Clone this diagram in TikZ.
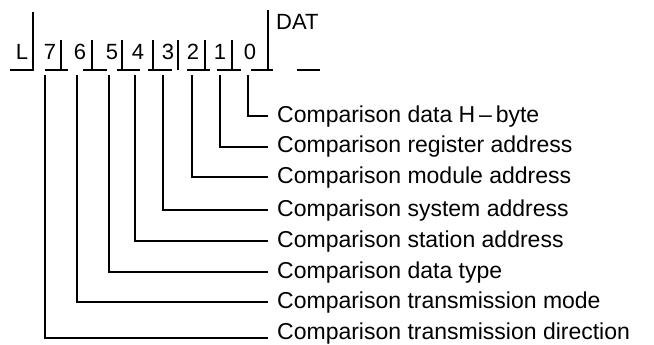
\documentclass[tikz,border=0pt]{standalone}
\usepackage{fontspec}
\setmainfont{Liberation Sans}
\begin{document}
\begin{tikzpicture}[x=1pt,y=-1pt,
  wire/.style={line width=1.8pt},
  bit/.style={font=\fontsize{22}{24}\selectfont, inner sep=0pt, anchor=base},
  lab/.style={font=\fontsize{23}{25}\selectfont, anchor=west, inner ysep=0pt,
              inner xsep=9pt, text height=12pt, text depth=0pt}]
\useasboundingbox (0,0) rectangle (654,345);

% frame signal: low segments with rising ticks
\draw[wire] (10,70) -| (33,12);
\draw[wire] (45,70) -- (68,70) (61,40) -- (61,70);
\draw[wire] (83,70) -- (107,70) (92,40) -- (92,70);
\draw[wire] (117,70) -- (140,70) (122,40) -- (122,70);
\draw[wire] (148,70) -- (172,70) (153,40) -- (153,70);
\draw[wire] (178,40) -- (178,70);
\draw[wire] (187,70) -- (210,70) (205,40) -- (205,70);
\draw[wire] (217,70) -- (241,70) (232,40) -- (232,70);
\draw[wire] (251,70) -- (273,70) (268,10) -- (268,70);
\draw[wire] (297,70) -- (320,70);

% field characters
\node[bit] (dL) at (22,60) {L};
\node[bit] (d7) at (50,60) {7};
\node[bit] (d6) at (80,60) {6};
\node[bit] (d5) at (112,60) {5};
\node[bit] (d4) at (138,60) {4};
\node[bit] (d3) at (168,60) {3};
\node[bit] (d2) at (193,60) {2};
\node[bit] (d1) at (220,60) {1};
\node[bit] (d0) at (250,60) {0};
\node[bit, anchor=base west] (dat) at (276,30) {DAT};

% start points of the leader lines below each bit
\coordinate (b7) at (45,75);
\coordinate (b6) at (77,75);
\coordinate (b5) at (109,75);
\coordinate (b4) at (135,75);
\coordinate (b3) at (163,75);
\coordinate (b2) at (192,75);
\coordinate (b1) at (220,75);
\coordinate (b0) at (248,75);

% bit descriptions
\node[lab] (l0) at (268,116) {Comparison data H\,--\,byte};
\node[lab] (l1) at (268,147) {Comparison register address};
\node[lab] (l2) at (268,177) {Comparison module address};
\node[lab] (l3) at (268,210) {Comparison system address};
\node[lab] (l4) at (268,241) {Comparison station address};
\node[lab] (l5) at (268,272) {Comparison data type};
\node[lab] (l6) at (268,302) {Comparison transmission mode};
\node[lab] (l7) at (268,333) {Comparison transmission direction};

% leader lines
\draw[wire] (b0) |- (l0.west);
\draw[wire] (b1) |- (l1.west);
\draw[wire] (b2) |- (l2.west);
\draw[wire] (b3) |- (l3.west);
\draw[wire] (b4) |- (l4.west);
\draw[wire] (b5) |- (l5.west);
\draw[wire] (b6) |- (l6.west);
\draw[wire] (b7) |- ([yshift=-5pt]l7.west);
\end{tikzpicture}
\end{document}
